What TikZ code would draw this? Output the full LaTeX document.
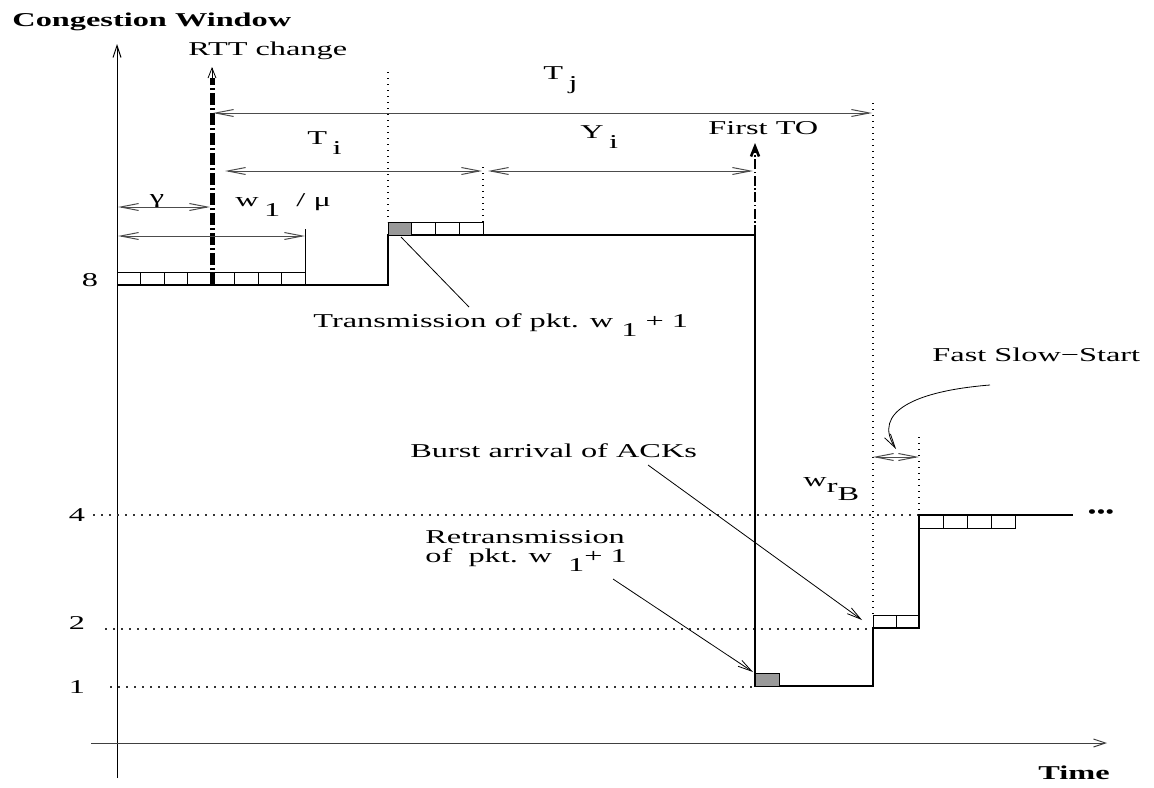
\documentclass[tikz,border=0pt]{standalone}
\usepackage{fontspec}
\setmainfont{Liberation Serif}
\usepackage{graphicx}
\usetikzlibrary{arrows.meta}
\newcommand{\xwide}[1]{\scalebox{1.65}[1]{#1}}
\newcommand{\lowr}[1]{\raisebox{-0.5em}{#1}}

\begin{document}
\begin{tikzpicture}[x=0.5pt,y=-0.5pt,
  lbl/.style={inner sep=0pt,font=\fontsize{9.8}{11}\selectfont},
  axisline/.style={line width=0.5pt,-{Straight Barb[length=6pt,width=4pt]}},
  span/.style={black!70,line width=0.5pt,{Straight Barb[length=9pt,width=3.5pt]}-{Straight Barb[length=9pt,width=3.5pt]}},
  lead/.style={line width=0.4pt,-{Straight Barb[length=7pt,width=3.5pt]}},
  cwnd/.style={line width=1.2pt,line join=miter},
  pktbox/.style={draw,line width=0.5pt},
  lostpkt/.style={pktbox,fill=black!40},
  vguide/.style={line width=0.7pt,dash pattern=on 0.7pt off 2.3pt},
  hguide/.style={line width=0.6pt,black!80,dash pattern=on 1pt off 3pt},
  rttline/.style={line width=2.5pt,dash pattern=on 6pt off 1.5pt on 1pt off 1.5pt},
  toline/.style={line width=1.3pt,dash pattern=on 5pt off 1.2pt on 0.8pt off 1.2pt}
]
\useasboundingbox (0,0) rectangle (1154,787);
% axes
\draw[axisline] (117,778) -- (117,44);
\draw[axisline,black!75] (91,743) -- (1107,743);
\node[lbl,anchor=west] (cwlbl) at (12,22) {\xwide{\textbf{Congestion Window}}};
\node[lbl] (timelbl) at (1074,773) {\xwide{\textbf{Time}}};
\node[lbl] (y8) at (90,280) {\xwide{8}};
\node[lbl] (y4) at (77,515) {\xwide{4}};
\node[lbl] (y2) at (77,623) {\xwide{2}};
\node[lbl] (y1) at (77,687) {\xwide{1}};
% guide lines
\draw[hguide] (93,515) -- (919,515);
\draw[hguide] (105,629) -- (873,629);
\draw[hguide] (110,687) -- (755,687);
\draw[vguide] (388,72) -- (388,222);
\draw[vguide] (483,167) -- (483,222);
\draw[vguide] (873,103) -- (873,615);
\draw[vguide] (919,437) -- (919,515);
\draw[line width=0.5pt] (305,229) -- (305,272);
% window
\draw[cwnd] (117,285) -- (388,285) -- (388,235) -- (755,235) -- (755,686)
  -- (873,686) -- (873,628) -- (919,628) -- (919,515) -- (1073,515);
\foreach \i in {0,...,7}
  \draw[pktbox] ({117+23.5*\i},272) rectangle ++(23.5,13);
\foreach \i in {1,2,3}
  \draw[pktbox] ({388+23.75*\i},222) rectangle ++(23.75,13);
\draw[lostpkt] (388,222) rectangle (411.75,235);
\draw[lostpkt] (755,673) rectangle (779,686);
\foreach \i in {0,1}
  \draw[pktbox] ({873+23*\i},615) rectangle ++(23,13);
\foreach \i in {0,...,3}
  \draw[pktbox] ({919+24*\i},515) rectangle ++(24,13);
\node[lbl] (more) at (1101,514) {\scalebox{1.3}[1]{\textbullet\textbullet\textbullet}};
% events
\draw[rttline] (212,285) -- (212,78);
\draw[line width=0.4pt,-{Straight Barb[length=5pt,width=4pt]}] (212,80) -- (212,67);
\node[lbl,anchor=west] (rtt) at (188,51) {\xwide{RTT change}};
\draw[toline,-{Straight Barb[length=5pt,width=4pt]}] (755,235) -- (755,143);
\node[lbl,anchor=west] (firstto) at (708,128) {\xwide{First TO}};
% intervals
\draw[span] (213,113) -- (872,113);
\node[lbl,anchor=west] (tj) at (543,80) {\xwide{T\,\lowr{j}}};
\draw[span] (225,171) -- (482,171);
\node[lbl,anchor=west] (ti) at (307,143) {\xwide{T\,\lowr{i}}};
\draw[span] (488,171) -- (753,171);
\node[lbl,anchor=west] (yi) at (580,137) {\xwide{Y\,\lowr{i}}};
\draw[span] (118,207) -- (210,207);
\node[lbl] (gam) at (157,201) {\xwide{γ}};
\draw[span] (118,236) -- (305,236);
\node[lbl,anchor=west] (wmu) at (235,205) {\xwide{w\,\lowr{1}\ \ / μ}};
\draw[span] (873,457) -- (919,457);
% annotations
\coordinate (txpkt) at (401,237);
\coordinate (txend) at (469,307);
\draw[line width=0.4pt] (txpkt) -- (txend);
\node[lbl,anchor=west] (trans) at (313,325) {\xwide{Transmission of pkt. w \lowr{1} + 1}};
\node[lbl,anchor=west] (burst) at (410,451) {\xwide{Burst arrival of ACKs}};
\coordinate (burstfrom) at (648,465);
\coordinate (burstto) at (862,620);
\draw[lead] (burstfrom) -- (burstto);
\node[lbl,anchor=west] (retx) at (425,537) {\xwide{Retransmission}};
\node[lbl,anchor=west] (retxb) at (425,560) {\xwide{of\ \ pkt. w\ \ \lowr{1}+ 1}};
\coordinate (retxfrom) at (613,579);
\coordinate (retxto) at (753,672);
\draw[lead] (retxfrom) -- (retxto);
\node[lbl,anchor=west] (wrb) at (803,489) {\xwide{w\raisebox{-0.3em}{r}\raisebox{-0.7em}{B}}};
\node[lbl,anchor=west] (fss) at (932,355) {\xwide{Fast Slow−Start}};
\coordinate (fssfrom) at (990,385);
\coordinate (fssto) at (896,449);
\draw[lead] (fssfrom) .. controls (915,391) and (872,412) .. (fssto);
\end{tikzpicture}
\end{document}
